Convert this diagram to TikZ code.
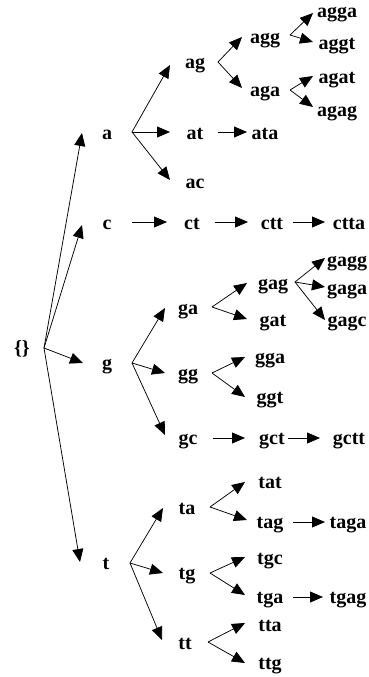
\documentclass[tikz,border=0pt]{standalone}
\usepackage{fontspec}
\setmainfont{Liberation Serif}
\usetikzlibrary{arrows.meta}
\newcommand{\lb}[4]{\node[lbl] (#1) at (#2,#3+6) {#4};}
\begin{document}
\begin{tikzpicture}[x=1pt,y=-1pt,
  lbl/.style={anchor=base,inner sep=0pt,font=\fontsize{20}{20}\selectfont\bfseries},
  arr/.style={-{Triangle[length=13pt,width=11pt]},line width=0.75pt}]
\useasboundingbox (0,0) rectangle (368,677);
% labels
\lb{root}{22}{348}{\{\}}
\lb{a}{107}{133}{a}
\lb{c}{107}{223}{c}
\lb{g}{107}{363}{g}
\lb{t}{106}{563}{t}
\lb{ag}{195}{63}{ag}
\lb{at}{195}{133}{at}
\lb{ac}{195}{182}{ac}
\lb{ata}{265}{133}{ata}
\lb{agg}{265}{38}{agg}
\lb{aga}{265}{90}{aga}
\lb{agga}{337}{12}{agga}
\lb{aggt}{337}{43}{aggt}
\lb{agat}{337}{77}{agat}
\lb{agag}{337}{110}{agag}
\lb{ct}{192}{223}{ct}
\lb{ctt}{272}{223}{ctt}
\lb{ctta}{349}{223}{ctta}
\lb{ga}{188}{308}{ga}
\lb{gg}{188}{373}{gg}
\lb{gc}{188}{438}{gc}
\lb{gct}{272}{438}{gct}
\lb{gctt}{349}{438}{gctt}
\lb{gag}{273}{283}{gag}
\lb{gat}{273}{320}{gat}
\lb{gagg}{347}{260}{gagg}
\lb{gaga}{347}{288}{gaga}
\lb{gagc}{347}{320}{gagc}
\lb{gga}{270}{357}{gga}
\lb{ggt}{270}{397}{ggt}
\lb{ta}{187}{508}{ta}
\lb{tg}{187}{573}{tg}
\lb{tt}{185}{643}{tt}
\lb{tat}{270}{482}{tat}
\lb{tag}{270}{522}{tag}
\lb{taga}{348}{522}{taga}
\lb{tgc}{270}{558}{tgc}
\lb{tga}{270}{597}{tga}
\lb{tgag}{348}{597}{tgag}
\lb{tta}{270}{625}{tta}
\lb{ttg}{270}{663}{ttg}
% branch points
\coordinate (root-o) at (44,348);
\coordinate (a-o) at (132,132);
\coordinate (at-o) at (218,132);
\coordinate (ag-o) at (218,62);
\coordinate (agg-o) at (290,35);
\coordinate (aga-o) at (290,90);
\coordinate (c-o) at (132,222);
\coordinate (ct-o) at (215,222);
\coordinate (ctt-o) at (293,222);
\coordinate (g-o) at (132,363);
\coordinate (gc-o) at (213,438);
\coordinate (gct-o) at (288,438);
\coordinate (ga-o) at (212,307);
\coordinate (gag-o) at (295,282);
\coordinate (gg-o) at (212,373);
\coordinate (t-o) at (130,563);
\coordinate (ta-o) at (210,507);
\coordinate (tag-o) at (293,522);
\coordinate (tg-o) at (210,573);
\coordinate (tga-o) at (293,597);
\coordinate (tt-o) at (208,642);
% arrow tips
\coordinate (a-i) at (82,133);
\coordinate (c-i) at (82,225);
\coordinate (g-i) at (83,363);
\coordinate (t-i) at (80,562);
\coordinate (ag-i) at (170,65);
\coordinate (at-i) at (170,132);
\coordinate (ac-i) at (170,180);
\coordinate (ata-i) at (247,132);
\coordinate (agg-i) at (242,37);
\coordinate (aga-i) at (242,88);
\coordinate (agga-i) at (313,13);
\coordinate (aggt-i) at (313,42);
\coordinate (agat-i) at (313,76);
\coordinate (agag-i) at (313,107);
\coordinate (ct-i) at (167,222);
\coordinate (ctt-i) at (248,222);
\coordinate (ctta-i) at (325,222);
\coordinate (ga-i) at (165,308);
\coordinate (gg-i) at (165,373);
\coordinate (gc-i) at (165,435);
\coordinate (gct-i) at (245,438);
\coordinate (gctt-i) at (320,438);
\coordinate (gag-i) at (247,283);
\coordinate (gat-i) at (247,319);
\coordinate (gagg-i) at (325,258);
\coordinate (gaga-i) at (325,287);
\coordinate (gagc-i) at (325,320);
\coordinate (gga-i) at (245,357);
\coordinate (ggt-i) at (245,397);
\coordinate (ta-i) at (163,508);
\coordinate (tg-i) at (163,573);
\coordinate (tt-i) at (162,640);
\coordinate (tat-i) at (245,482);
\coordinate (tag-i) at (247,520);
\coordinate (taga-i) at (325,522);
\coordinate (tgc-i) at (245,557);
\coordinate (tga-i) at (245,595);
\coordinate (tgag-i) at (323,597);
\coordinate (tta-i) at (245,623);
\coordinate (ttg-i) at (245,663);
% connectors
\foreach \s/\d in {root/a,root/c,root/g,root/t,
  a/ag,a/at,a/ac,at/ata,ag/agg,ag/aga,agg/agga,agg/aggt,aga/agat,aga/agag,
  c/ct,ct/ctt,ctt/ctta,
  g/ga,g/gg,g/gc,gc/gct,gct/gctt,ga/gag,ga/gat,gag/gagg,gag/gaga,gag/gagc,gg/gga,gg/ggt,
  t/ta,t/tg,t/tt,ta/tat,ta/tag,tag/taga,tg/tgc,tg/tga,tga/tgag,tt/tta,tt/ttg}
  {\draw[arr] (\s-o) -- (\d-i);}
\end{tikzpicture}
\end{document}
